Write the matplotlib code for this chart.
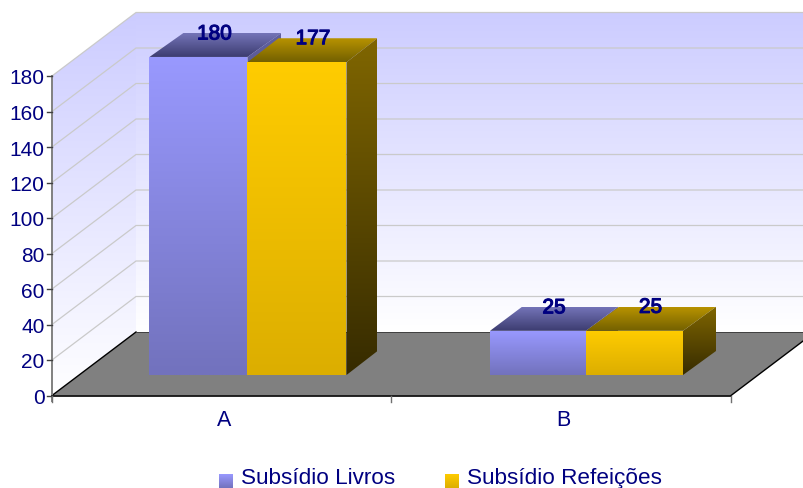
import numpy as np
import matplotlib
matplotlib.use("Agg")
import matplotlib.pyplot as plt
import matplotlib.patheffects as pe
from matplotlib.colors import LinearSegmentedColormap
from matplotlib.patches import Polygon


# ── Data ─────────────────────────────────────────────────────────────────────
categories = ["A", "B"]
series_names = ["Subsídio Livros", "Subsídio Refeições"]
livros = [180, 25]
refeicoes = [177, 25]
y_ticks = [0, 20, 40, 60, 80, 100, 120, 140, 160, 180]

# ── Geometry (image pixels) ──────────────────────────────────────────────────
W, H = 804, 489
X0, X1, Y0 = 52, 731, 396.5    # front edge of the floor
DX, DY = 84, -63.5             # depth of the box
AXIS_SCALE = 319.5 / 180
BAR_SCALE = 1.767
BAR_BASE = 376
BAR_LEFT = [149.5, 490]
BAR_W = [98, 96]
BAR_DY = -24
BLUE_DX = [34, 32]
GOLD_DX = [31, 33]

NAVY = "#000080"
GRID = "#cacaca"
BLUE = dict(front=("#9999ff", "#7272bd"), top=("#7474b8", "#3c3c70"), side=("#60609f", "#2c2c58"))
GOLD = dict(front=("#ffcc00", "#dcae00"), top=("#b89300", "#736000"), side=("#806600", "#362b00"))


def gradient_poly(ax, pts, top, bottom, y_top=None, y_bottom=None, zorder=2):
    """Fill a polygon with a vertical gradient."""
    pts = np.array(pts, dtype=float)
    y_top = pts[:, 1].min() if y_top is None else y_top
    y_bottom = pts[:, 1].max() if y_bottom is None else y_bottom
    cmap = LinearSegmentedColormap.from_list("g", [top, bottom])
    im = ax.imshow(
        np.linspace(0, 1, 256).reshape(-1, 1),
        cmap=cmap,
        extent=(pts[:, 0].min(), pts[:, 0].max(), y_bottom, y_top),
        aspect="auto",
        zorder=zorder,
        interpolation="bilinear",
    )
    clip = Polygon(pts, transform=ax.transData, closed=True)
    im.set_clip_path(clip)


def draw_bar(ax, left, width, value, colors, dx, zorder):
    top = BAR_BASE - value * BAR_SCALE
    right = left + width
    gradient_poly(ax, [(left, top), (right, top), (right + dx, top + BAR_DY), (left + dx, top + BAR_DY)],
                  colors["top"][0], colors["top"][1], zorder=zorder)
    gradient_poly(ax, [(right, top), (right + dx, top + BAR_DY), (right + dx, BAR_BASE + BAR_DY), (right, BAR_BASE)],
                  colors["side"][0], colors["side"][1], zorder=zorder)
    gradient_poly(ax, [(left, top), (right, top), (right, BAR_BASE), (left, BAR_BASE)],
                  colors["front"][0], colors["front"][1], zorder=zorder + 0.1)
    return top


# ── Figure ───────────────────────────────────────────────────────────────────
plt.rcParams["font.family"] = ["Liberation Sans", "DejaVu Sans"]
fig = plt.figure(figsize=(W / 100, H / 100), dpi=100)
ax = fig.add_axes([0, 0, 1, 1])
ax.set_xlim(0, W)
ax.set_ylim(H, 0)
ax.axis("off")

y_top = Y0 - 180 * AXIS_SCALE
y_floor = Y0 + DY

# walls
gradient_poly(ax, [(X0 + DX, y_top + DY), (W, y_top + DY), (W, y_floor), (X0 + DX, y_floor)],
              "#ccccff", "#ffffff", zorder=1)
gradient_poly(ax, [(X0, y_top), (X0 + DX, y_top + DY), (X0 + DX, y_floor), (X0, Y0)],
              "#ccccff", "#ffffff", y_top=y_top + DY, y_bottom=Y0, zorder=1)

# floor
ax.add_patch(Polygon([(X0, Y0), (X0 + DX, y_floor), (X1 + DX, y_floor), (X1, Y0)],
                     closed=True, facecolor="#808080", edgecolor="none", zorder=1.5))

# gridlines on both walls
for v in y_ticks[1:]:
    y = Y0 - v * AXIS_SCALE
    ax.plot([X0, X0 + DX, W], [y, y + DY, y + DY], color=GRID, lw=0.9, zorder=1.6, solid_joinstyle="miter")

# floor edges and axes
ax.plot([X0, X0 + DX], [Y0, y_floor], color="black", lw=1.0, zorder=1.7)
ax.plot([X1, X1 + DX], [Y0, y_floor], color="black", lw=1.0, zorder=1.7)
ax.plot([X0 + DX, W], [y_floor, y_floor], color="#404040", lw=0.7, zorder=1.7)
ax.plot([X0, X0], [y_top, Y0 + 5], color="#808080", lw=1.4, zorder=1.8)
ax.plot([X0, X1], [Y0, Y0], color="black", lw=1.2, zorder=1.8)

# y ticks and labels
for v in y_ticks:
    y = Y0 - v * AXIS_SCALE
    ax.plot([X0 - 5, X0], [y, y], color="#404040", lw=1.0, zorder=1.8)
    ax.text(X0 - 7.5, y, str(v), ha="right", va="center_baseline", fontsize=15, color=NAVY)

# x ticks and labels
step = (X1 - X0) / len(categories)
for i in range(len(categories) + 1):
    x = X0 + i * step
    ax.plot([x, x], [Y0, Y0 + 6], color="#707070", lw=1.0, zorder=1.8)
for i, cat in enumerate(categories):
    ax.text(X0 + (i + 0.5) * step + 2.5, 420, cat, ha="center", va="center", fontsize=15.5, color=NAVY)

# bars and value labels
stroke = [pe.withStroke(linewidth=0.8, foreground=NAVY)]
for i in range(len(categories)):
    left = BAR_LEFT[i]
    w = BAR_W[i]
    top_a = draw_bar(ax, left, w, livros[i], BLUE, BLUE_DX[i], zorder=3)
    top_b = draw_bar(ax, left + w, w + 1, refeicoes[i], GOLD, GOLD_DX[i], zorder=4)
    ax.text(left + w / 2 + 16, top_a - 23, str(livros[i]), ha="center", va="center", fontsize=15,
            color=NAVY, path_effects=stroke, zorder=6)
    ax.text(left + w + w / 2 + 16.5, top_b - 23.5, str(refeicoes[i]), ha="center", va="center", fontsize=15,
            color=NAVY, path_effects=stroke, zorder=6)

# legend
legend_x = [219, 445]
legend_cols = [BLUE["front"], GOLD["front"]]
for x, name, cols in zip(legend_x, series_names, legend_cols):
    gradient_poly(ax, [(x, 475), (x + 14, 475), (x + 14, 489), (x, 489)], cols[0], cols[1], zorder=5)
    ax.text(x + 22, 484, name, ha="left", va="baseline", fontsize=16.2, color=NAVY)

ax.set_xlim(0, W)
ax.set_ylim(H, 0)
fig.savefig("out.png", dpi=100)
plt.close(fig)
